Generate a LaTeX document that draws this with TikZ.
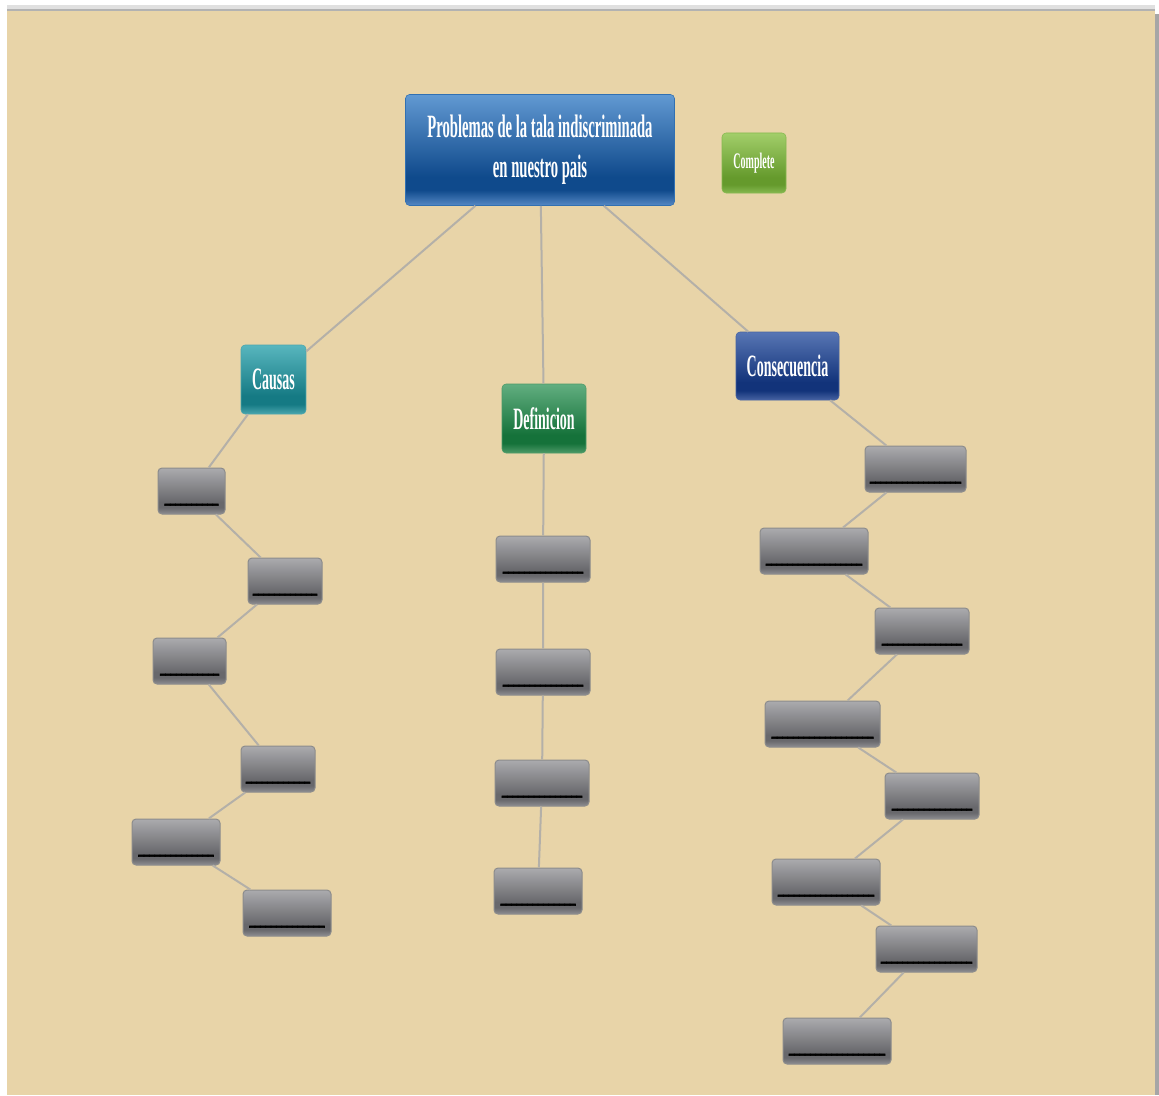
\documentclass[tikz,border=0pt]{standalone}
\usepackage{fontspec}
\setmainfont[FakeStretch=0.45]{Liberation Serif}
\usepackage{tikz}
\definecolor{fondotan}{HTML}{E8D4A8}
\definecolor{lineagris}{HTML}{B4B0A8}
\definecolor{temaarriba}{HTML}{6299D2}
\definecolor{temamedio}{HTML}{3170B2}
\definecolor{temaabajo}{HTML}{0F4A8C}
\definecolor{temabrillo}{HTML}{5588C4}
\definecolor{causaarriba}{HTML}{58B6BE}
\definecolor{causaabajo}{HTML}{157A84}
\definecolor{causabrillo}{HTML}{4AA6AE}
\definecolor{defarriba}{HTML}{62AE80}
\definecolor{defabajo}{HTML}{15723A}
\definecolor{defbrillo}{HTML}{4D9A68}
\definecolor{consarriba}{HTML}{5876B4}
\definecolor{consabajo}{HTML}{12337A}
\definecolor{consbrillo}{HTML}{4763A2}
\definecolor{comparriba}{HTML}{A2CE6A}
\definecolor{compabajo}{HTML}{659A2C}
\definecolor{compbrillo}{HTML}{86B850}
\definecolor{gristop}{HTML}{ABABAE}
\definecolor{grisbajo}{HTML}{68686C}
\definecolor{grisbrillo}{HTML}{8E8E92}
\definecolor{grisborde}{HTML}{8C8C8C}

% sombreado con banda oscura abajo
\newcommand\brillo[4]{\pgfdeclareverticalshading{#1}{100bp}{color(0bp)=(#4); color(25bp)=(#4); color(32bp)=(#3); color(38bp)=(#3); color(75bp)=(#2); color(100bp)=(#2)}}
\brillo{sombratema}{temaarriba}{temaabajo}{temabrillo}
\brillo{sombracausa}{causaarriba}{causaabajo}{causabrillo}
\brillo{sombradef}{defarriba}{defabajo}{defbrillo}
\brillo{sombracons}{consarriba}{consabajo}{consbrillo}
\brillo{sombracomp}{comparriba}{compabajo}{compbrillo}
\brillo{sombragris}{gristop}{grisbajo}{grisbrillo}

\begin{document}
\begin{tikzpicture}[x=0.75pt, y=-0.75pt, font=\bfseries,
  caja/.style={rectangle, rounded corners=3pt, inner sep=0pt, text=white, align=center},
  hueco/.style={caja, draw=grisborde, line width=0.75pt, shading=sombragris, text=black,
    minimum width=#1, minimum height=34.5pt, text height=17pt, text depth=0pt,
    font=\bfseries\fontsize{17.8}{17.8}\selectfont\addfontfeature{FakeBold=2.5}},
  conector/.style={draw=lineagris, line width=1.5pt}]
  \useasboundingbox (0,0) rectangle (1159,1095);
  % fondo
  \fill[white] (0,0) rectangle (1159,1095);
  \fill[black!12] (7,5) rectangle (1155,9);
  \fill[black!30] (7,9) rectangle (1155,11);
  \fill[black!35] (1155,14) rectangle (1159,1095);
  \fill[fondotan] (7,11) rectangle (1155,1095);

  % nodos principales
  \node[caja, draw=temamedio, shading=sombratema,
    minimum width=201.75pt, minimum height=83.25pt, font=\bfseries\fontsize{24.4}{30}\selectfont]
    (tema) at (540,150) {Problemas de la tala indiscriminada\\en nuestro pais};
  \node[caja, draw=compbrillo, shading=sombracomp,
    minimum width=48pt, minimum height=45pt, font=\bfseries\fontsize{16.7}{16.7}\selectfont]
    (complete) at (754,163) {Complete};
  \node[caja, draw=causabrillo, shading=sombracausa,
    minimum width=48.75pt, minimum height=51.75pt, font=\bfseries\fontsize{23.3}{23.3}\selectfont]
    (causas) at (273.5,379.5) {Causas};
  \node[caja, draw=defbrillo, shading=sombradef,
    minimum width=63pt, minimum height=51.75pt, font=\bfseries\fontsize{23.3}{23.3}\selectfont]
    (definicion) at (544,418.5) {Definicion};
  \node[caja, draw=consbrillo, shading=sombracons,
    minimum width=77.25pt, minimum height=51pt, font=\bfseries\fontsize{23.3}{23.3}\selectfont]
    (consecuencia) at (787.5,366) {Consecuencia};

  % causas
  \node[hueco=50.25pt] (causa1) at (191.5,491) {\_\_\_\_\_\_\_\_\_\_};
  \node[hueco=55.5pt]  (causa2) at (285,581)   {\_\_\_\_\_\_\_\_\_\_\_\_};
  \node[hueco=54.75pt] (causa3) at (189.5,661) {\_\_\_\_\_\_\_\_\_\_\_};
  \node[hueco=55.5pt]  (causa4) at (278,769)   {\_\_\_\_\_\_\_\_\_\_\_\_};
  \node[hueco=66pt]    (causa5) at (176,842)   {\_\_\_\_\_\_\_\_\_\_\_\_\_\_};
  \node[hueco=66pt]    (causa6) at (287,913)   {\_\_\_\_\_\_\_\_\_\_\_\_\_\_};

  % definicion
  \node[hueco=70.5pt] (def1) at (543,559) {\_\_\_\_\_\_\_\_\_\_\_\_\_\_\_};
  \node[hueco=70.5pt] (def2) at (543,672) {\_\_\_\_\_\_\_\_\_\_\_\_\_\_\_};
  \node[hueco=70.5pt] (def3) at (542,783) {\_\_\_\_\_\_\_\_\_\_\_\_\_\_\_};
  \node[hueco=66pt]   (def4) at (538,891) {\_\_\_\_\_\_\_\_\_\_\_\_\_\_};

  % consecuencias
  \node[hueco=75.75pt] (cons1) at (915.5,469) {\_\_\_\_\_\_\_\_\_\_\_\_\_\_\_\_\_};
  \node[hueco=81pt]    (cons2) at (814,551)   {\_\_\_\_\_\_\_\_\_\_\_\_\_\_\_\_\_\_};
  \node[hueco=70.5pt]  (cons3) at (922,631)   {\_\_\_\_\_\_\_\_\_\_\_\_\_\_\_};
  \node[hueco=86.25pt] (cons4) at (822.5,724) {\_\_\_\_\_\_\_\_\_\_\_\_\_\_\_\_\_\_\_};
  \node[hueco=70.5pt]  (cons5) at (932,796)   {\_\_\_\_\_\_\_\_\_\_\_\_\_\_\_};
  \node[hueco=81pt]    (cons6) at (826,882)   {\_\_\_\_\_\_\_\_\_\_\_\_\_\_\_\_\_\_};
  \node[hueco=75.75pt] (cons7) at (926.5,949) {\_\_\_\_\_\_\_\_\_\_\_\_\_\_\_\_\_};
  \node[hueco=81pt]    (cons8) at (837,1041)  {\_\_\_\_\_\_\_\_\_\_\_\_\_\_\_\_\_\_};

  % conectores
  \draw[conector] (tema) -- (causas);
  \draw[conector] (tema) -- (definicion);
  \draw[conector] (tema) -- (consecuencia);
  \draw[conector] (causas) -- (causa1) -- (causa2) -- (causa3) -- (causa4) -- (causa5) -- (causa6);
  \draw[conector] (definicion) -- (def1) -- (def2) -- (def3) -- (def4);
  \draw[conector] (consecuencia) -- (cons1) -- (cons2) -- (cons3) -- (cons4) -- (cons5) -- (cons6) -- (cons7) -- (cons8);
\end{tikzpicture}
\end{document}
